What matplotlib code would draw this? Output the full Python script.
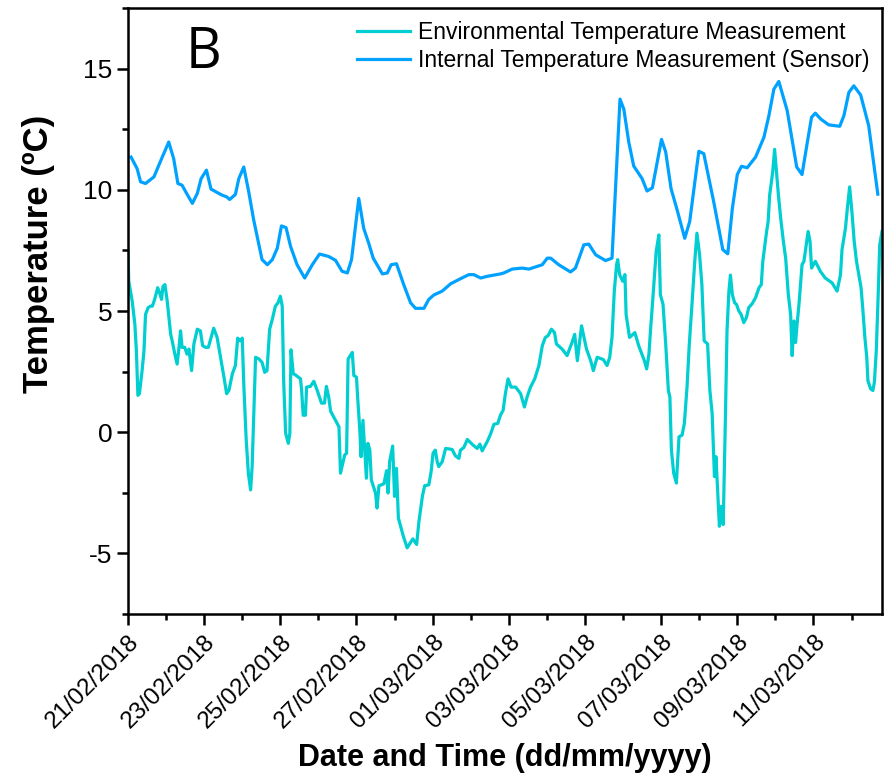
import datetime as dt
import matplotlib
matplotlib.use("Agg")
import matplotlib.pyplot as plt
import matplotlib.dates as mdates
from matplotlib.ticker import MultipleLocator

plt.rcParams['font.family'] = ['Liberation Sans', 'DejaVu Sans']

# ---- data (day offsets from 21/02/2018 00:00) ----
start = dt.datetime(2018, 2, 21)
end_day = 19.8

env_days = [0.00, 0.02, 0.11, 0.18, 0.22, 0.26, 0.30, 0.37, 0.42, 0.46, 0.53, 0.59, 0.64, 0.70, 0.78, 0.83,
            0.88, 0.92, 0.97, 1.03, 1.12, 1.16, 1.23, 1.29, 1.34, 1.38, 1.42, 1.49, 1.55, 1.60, 1.67, 1.73,
            1.82, 1.90, 1.96, 2.04, 2.11, 2.17, 2.25, 2.34, 2.43, 2.52, 2.59, 2.65, 2.74, 2.82, 2.88, 2.95,
            3.00, 3.04, 3.10, 3.16, 3.22, 3.26, 3.30, 3.35, 3.44, 3.52, 3.59, 3.65, 3.72, 3.79, 3.87, 3.94,
            4.00, 4.05, 4.09, 4.14, 4.21, 4.25, 4.28, 4.34, 4.40, 4.53, 4.56, 4.60, 4.66, 4.69, 4.79, 4.88,
            4.97, 5.08, 5.16, 5.21, 5.27, 5.32, 5.45, 5.54, 5.58, 5.69, 5.74, 5.78, 5.89, 5.93, 6.00, 6.03,
            6.09, 6.12, 6.17, 6.26, 6.30, 6.35, 6.39, 6.50, 6.54, 6.59, 6.72, 6.79, 6.83, 6.87, 6.95, 7.00,
            7.05, 7.10, 7.23, 7.33, 7.48, 7.58, 7.64, 7.73, 7.79, 7.90, 7.96, 8.01, 8.07, 8.12, 8.16, 8.25,
            8.34, 8.51, 8.60, 8.69, 8.73, 8.82, 8.91, 9.06, 9.17, 9.24, 9.30, 9.43, 9.52, 9.61, 9.71, 9.78,
            9.85, 9.91, 9.98, 10.06, 10.18, 10.31, 10.41, 10.48, 10.57, 10.68, 10.79, 10.88, 10.96, 11.03,
            11.12, 11.20, 11.25, 11.40, 11.53, 11.66, 11.73, 11.80, 11.91, 12.04, 12.15, 12.22, 12.32, 12.48,
            12.58, 12.65, 12.71, 12.77, 12.83, 12.86, 12.91, 12.99, 13.05, 13.08, 13.17, 13.31, 13.41, 13.56,
            13.62, 13.68, 13.72, 13.79, 13.87, 13.94, 13.98, 14.05, 14.12, 14.19, 14.23, 14.27, 14.33, 14.40,
            14.47, 14.55, 14.61, 14.68, 14.74, 14.81, 14.88, 14.94, 15.01, 15.07, 15.13, 15.22, 15.28, 15.34,
            15.40, 15.44, 15.53, 15.58, 15.63, 15.69, 15.73, 15.78, 15.82, 15.87, 15.93, 15.98, 16.04, 16.10,
            16.17, 16.24, 16.30, 16.39, 16.48, 16.57, 16.63, 16.67, 16.77, 16.81, 16.85, 16.93, 16.98, 17.03,
            17.08, 17.14, 17.21, 17.27, 17.34, 17.40, 17.44, 17.49, 17.53, 17.57, 17.62, 17.70, 17.75, 17.86,
            17.91, 17.95, 18.05, 18.18, 18.31, 18.49, 18.62, 18.71, 18.75, 18.84, 18.89, 18.95, 19.01, 19.07,
            19.13, 19.25, 19.30, 19.35, 19.40, 19.43, 19.50, 19.56, 19.60, 19.65, 19.70, 19.74, 19.80]
env_temp = [7.45, 6.23, 5.41, 4.45, 3.36, 1.52, 1.59, 2.54, 3.36, 4.86, 5.14, 5.20, 5.20, 5.48, 5.96, 5.75,
            5.48, 6.02, 6.09, 5.41, 4.04, 3.77, 3.22, 2.81, 3.50, 4.18, 3.50, 3.50, 3.22, 3.43, 2.54, 3.64,
            4.25, 4.18, 3.57, 3.50, 3.50, 3.84, 4.29, 3.91, 3.09, 2.27, 1.59, 1.72, 2.41, 2.75, 3.88, 3.77,
            3.88, 2.00, -0.19, -1.69, -2.38, -1.42, 0.63, 3.09, 3.02, 2.88, 2.47, 2.54, 4.25, 4.66, 5.20, 5.34,
            5.61, 5.20, 2.00, -0.05, -0.46, -0.05, 3.40, 2.41, 2.36, 2.20, 1.72, 0.70, 0.70, 1.86, 1.89, 2.10,
            1.72, 1.20, 1.20, 1.89, 1.45, 0.87, 0.49, 0.22, -1.69, -0.94, -0.87, 3.02, 3.29, 2.34, 2.27, 1.45,
            0.01, -1.01, 0.49, -1.90, -0.46, -0.74, -1.97, -2.51, -3.13, -2.21, -2.13, -1.59, -2.51, -1.22, -0.57, -2.65,
            -1.49, -3.54, -4.29, -4.77, -4.40, -4.63, -3.68, -2.65, -2.21, -2.17, -1.63, -0.87, -0.74, -1.22, -1.42, -1.22,
            -0.67, -0.71, -0.98, -1.08, -0.74, -0.63, -0.30, -0.53, -0.67, -0.49, -0.77, -0.40, -0.08, 0.33, 0.36, 0.70,
            0.90, 1.59, 2.20, 1.86, 1.86, 1.59, 1.04, 1.45, 1.86, 2.20, 2.75, 3.57, 3.91, 3.98,
            4.25, 4.11, 3.64, 3.43, 3.16, 3.70, 4.04, 2.95, 4.39, 3.43, 2.95, 2.54, 3.09, 3.00,
            2.75, 3.09, 3.91, 5.82, 6.91, 7.12, 6.50, 6.23, 6.50, 4.86, 3.91, 4.11, 3.57, 2.95,
            2.61, 3.22, 4.18, 5.68, 7.46, 8.14, 5.68, 5.27, 3.64, 1.72, 1.45, -0.74, -1.69, -2.10,
            -0.19, -0.12, 0.36, 1.86, 3.64, 5.27, 6.98, 8.21, 7.32, 6.09, 3.77, 3.64, 1.72, 0.77,
            -1.83, -1.01, -3.88, -3.06, -3.81, 0.77, 4.18, 5.82, 6.48, 5.68, 5.34, 5.27, 5.00, 4.86,
            4.52, 4.73, 5.14, 5.30, 5.55, 5.96, 6.09, 7.05, 8.28, 8.69, 9.78, 10.74, 11.67, 10.74,
            9.78, 8.82, 7.87, 7.18, 5.68, 4.86, 3.16, 4.59, 3.70, 4.45, 5.27, 6.91, 7.05, 8.28,
            7.87, 6.77, 7.05, 6.64, 6.36, 6.16, 5.82, 6.50, 7.53, 8.41, 9.23, 10.12, 9.10, 7.87,
            7.05, 5.96, 5.00, 3.91, 3.09, 2.13, 1.79, 1.72, 2.06, 3.36, 5.68, 7.73, 8.28]

int_days = [0.08, 0.24, 0.33, 0.46, 0.68, 0.90, 1.07, 1.20, 1.31, 1.42, 1.54, 1.69, 1.82, 1.92, 2.06, 2.18,
            2.34, 2.47, 2.59, 2.67, 2.82, 2.91, 3.04, 3.17, 3.30, 3.52, 3.66, 3.79, 3.92, 4.03, 4.15, 4.27,
            4.44, 4.64, 4.84, 5.03, 5.27, 5.45, 5.62, 5.76, 5.87, 6.06, 6.19, 6.32, 6.44, 6.68, 6.81, 6.91,
            7.05, 7.24, 7.42, 7.55, 7.77, 7.90, 8.03, 8.25, 8.47, 8.69, 8.95, 9.08, 9.26, 9.43, 9.78, 9.87,
            10.09, 10.35, 10.53, 10.88, 11.01, 11.10, 11.31, 11.62, 11.75, 11.97, 12.10, 12.28, 12.54, 12.71,
            12.92, 13.02, 13.15, 13.28, 13.50, 13.63, 13.77, 14.01, 14.12, 14.26, 14.42, 14.62, 14.75, 14.99,
            15.12, 15.38, 15.62, 15.75, 15.87, 16.00, 16.11, 16.26, 16.48, 16.70, 16.83, 16.96, 17.09, 17.31,
            17.56, 17.70, 17.84, 17.95, 18.05, 18.19, 18.40, 18.69, 18.80, 18.93, 19.06, 19.24, 19.45, 19.69]
int_temp = [11.35, 10.87, 10.33, 10.26, 10.53, 11.35, 11.97, 11.28, 10.26, 10.19, 9.85, 9.44, 9.85, 10.46, 10.81, 10.03,
            9.89, 9.78, 9.71, 9.60, 9.81, 10.46, 10.94, 9.92, 8.76, 7.12, 6.91, 7.12, 7.59, 8.51, 8.44, 7.66,
            6.91, 6.36, 6.91, 7.35, 7.25, 7.09, 6.64, 6.57, 7.12, 9.64, 8.41, 7.80, 7.18, 6.53, 6.57, 6.91,
            6.95, 6.09, 5.34, 5.11, 5.11, 5.48, 5.66, 5.82, 6.12, 6.30, 6.50, 6.50, 6.36, 6.43, 6.53, 6.57,
            6.73, 6.77, 6.73, 6.91, 7.18, 7.18, 6.91, 6.61, 6.77, 7.73, 7.76, 7.32, 7.08, 7.18,
            13.74, 13.33, 11.97, 10.98, 10.46, 9.95, 10.08, 12.08, 11.56, 10.05, 9.17, 8.00, 8.69, 11.59,
            11.49, 9.51, 7.53, 7.36, 9.23, 10.63, 10.97, 10.91, 11.35, 12.17, 13.06, 14.15, 14.47, 13.27,
            10.94, 10.63, 11.97, 12.99, 13.16, 12.92, 12.68, 12.62, 13.06, 14.02, 14.29, 13.91, 12.65, 9.82]

tick_labels = ['21/02/2018', '23/02/2018', '25/02/2018', '27/02/2018', '01/03/2018',
               '03/03/2018', '05/03/2018', '07/03/2018', '09/03/2018', '11/03/2018']

env_t = [start + dt.timedelta(days=d) for d in env_days]
int_t = [start + dt.timedelta(days=d) for d in int_days]
tick_t = [dt.datetime.strptime(s, '%d/%m/%Y') for s in tick_labels]

c_env = '#00CED1'
c_int = '#00A2FF'

fig = plt.figure(figsize=(8.89, 7.74), dpi=100)
ax = fig.add_axes([128/889, 1-614/774, (882-128)/889, (614-8)/774])

ax.plot(env_t, env_temp, color=c_env, lw=2.3, label='Environmental Temperature Measurement')
ax.plot(int_t, int_temp, color=c_int, lw=2.3, label='Internal Temperature Measurement (Sensor)')

ax.set_xlim(start, start + dt.timedelta(days=end_day))
ax.set_ylim(-7.5, 17.5)

ax.set_xticks(tick_t)
ax.set_xticklabels(tick_labels, rotation=45, ha='right', va='top',
                   rotation_mode='anchor', fontsize=17.5)
ax.xaxis.set_minor_locator(mdates.DayLocator())
ax.set_yticks([-5, 0, 5, 10, 15])
ax.set_yticklabels(['-5', '0', '5', '10', '15'], fontsize=19)
ax.yaxis.set_minor_locator(MultipleLocator(2.5))

ax.tick_params(which='major', direction='out', length=8, width=1.8, pad=3)
ax.tick_params(axis='x', which='major', pad=4)
ax.tick_params(which='minor', direction='out', length=4, width=1.8)
for s in ax.spines.values():
    s.set_linewidth(1.8)

ax.set_xlabel('Date and Time (dd/mm/yyyy)', fontsize=22, fontweight='bold', va='center')
ax.xaxis.set_label_coords(0.5, -0.237)
ax.set_ylabel('Temperature (\u00baC)', fontsize=25, fontweight='bold')
ax.yaxis.set_label_coords(-0.097, 0.595)

leg = ax.legend(loc='upper right', frameon=False, fontsize=16.5, handlelength=2.3,
                borderaxespad=0.15, labelspacing=0.25, handletextpad=0.35)

ax.text(0.10, 0.925, 'B', transform=ax.transAxes, fontsize=40, family=['Open Sans', 'DejaVu Sans'],
        ha='center', va='center')

fig.savefig('out.png', dpi=100)
